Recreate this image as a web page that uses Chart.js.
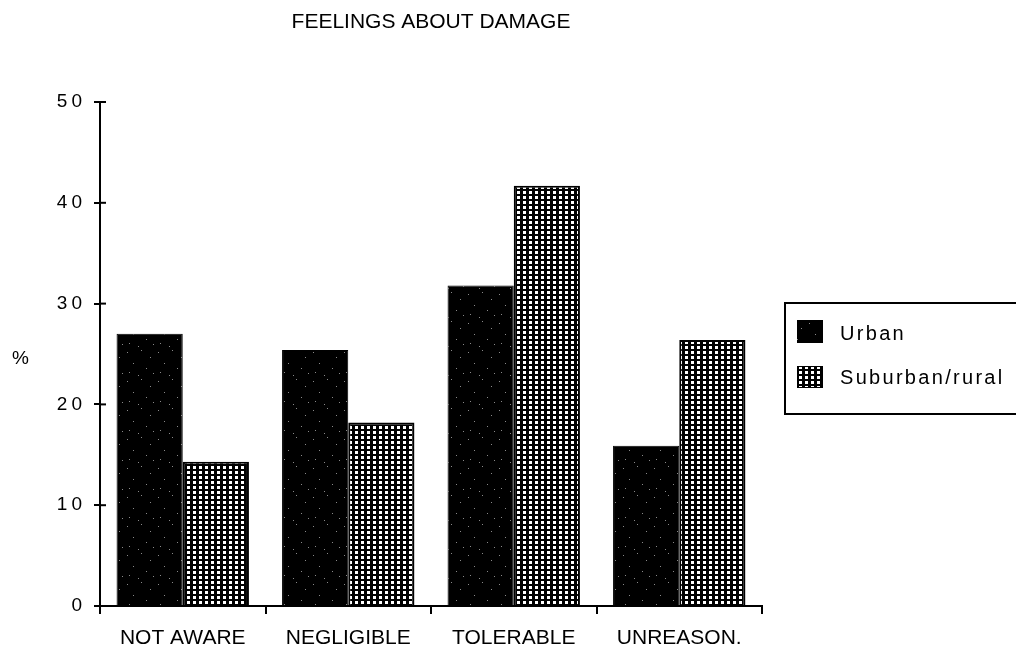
<!DOCTYPE html>
<html>
<head>
<meta charset="utf-8">
<script src="https://cdn.jsdelivr.net/npm/chart.js@4/dist/chart.umd.min.js"></script>
<style>
  body { margin: 0; background: #fff; }
  #wrap { width: 1016px; height: 653px; }
</style>
</head>
<body>
<div id="wrap"><canvas id="chart" width="1016" height="653"></canvas></div>
<script>
// Data
const categories = ['NOT AWARE', 'NEGLIGIBLE', 'TOLERABLE', 'UNREASON.'];
const urbanValues = [27.0, 25.4, 31.8, 15.9];
const suburbanValues = [14.3, 18.2, 41.7, 26.4];
const yTicks = [0, 10, 20, 30, 40, 50];

const titleText = 'FEELINGS ABOUT DAMAGE';
const seriesNames = ['Urban', 'Suburban/rural'];

// Fill patterns (black with a few specks, dotted screen)
function makeUrbanPattern(ctx) {
    const c = document.createElement('canvas');
    c.width = 31; c.height = 29;
    const p = c.getContext('2d');
    p.fillStyle = '#000';
    p.fillRect(0, 0, c.width, c.height);
    p.fillStyle = '#8a8a8a';
    const specks = [[3, 4], [17, 2], [26, 9], [9, 15], [22, 20], [5, 24], [14, 27], [29, 25]];
    specks.forEach(([x, y]) => p.fillRect(x, y, 1, 1));
    return ctx.createPattern(c, 'repeat');
}

function makeDotPattern(ctx) {
    const c = document.createElement('canvas');
    c.width = 6; c.height = 5;
    const p = c.getContext('2d');
    p.fillStyle = '#000';
    p.fillRect(0, 0, 6, 5);
    p.fillStyle = '#fff';
    p.fillRect(1, 1, 3, 3);
    return ctx.createPattern(c, 'repeat');
}

const canvas = document.getElementById('chart');
const ctx = canvas.getContext('2d');
const urbanFill = makeUrbanPattern(ctx);
const dotFill = makeDotPattern(ctx);

// y tick labels are letter-spaced in the original
function spaceOutLabels(scale, spacing) {
    if (scale._spaced) return;
    const orig = scale.drawLabels;
    scale.drawLabels = function(area) {
        const c = this.ctx;
        c.save();
        if ('letterSpacing' in c) c.letterSpacing = spacing;
        orig.call(this, area);
        c.restore();
    };
    scale._spaced = true;
}

// Title, "%" label, inner tick stubs and boxed legend
const decorations = {
    id: 'decorations',
    beforeDraw(chart) {
        spaceOutLabels(chart.scales.y, '4px');
    },
    afterDraw(chart) {
        const c = chart.ctx;
        const area = chart.chartArea;
        const yScale = chart.scales.y;
        c.save();

        // tick stubs crossing into the plot
        c.strokeStyle = '#000';
        c.lineWidth = 2;
        yTicks.forEach(v => {
            const py = yScale.getPixelForValue(v);
            c.beginPath();
            c.moveTo(area.left, py);
            c.lineTo(area.left + 6, py);
            c.stroke();
        });

        c.fillStyle = '#000';
        c.textBaseline = 'middle';
        c.font = '21px "Liberation Sans", Arial, sans-serif';
        c.textAlign = 'center';
        c.fillText(titleText, (area.left + area.right) / 2, 22);

        c.font = '19px "Liberation Sans", Arial, sans-serif';
        c.textAlign = 'left';
        c.fillText('%', 12, 359);

        // legend box
        c.lineWidth = 2;
        c.strokeRect(785, 303, 240, 111);

        c.fillStyle = urbanFill;
        c.fillRect(797, 320, 26, 23);
        c.fillStyle = dotFill;
        c.fillRect(797, 366, 26, 22);
        c.lineWidth = 1;
        c.strokeRect(797.5, 366.5, 25, 21);

        c.fillStyle = '#000';
        c.font = '20px "Liberation Sans", Arial, sans-serif';
        if ('letterSpacing' in c) c.letterSpacing = '2.3px';
        c.fillText(seriesNames[0], 840, 334);
        c.fillText(seriesNames[1], 840, 378);
        c.restore();
    }
};

new Chart(ctx, {
    type: 'bar',
    data: {
        labels: categories,
        datasets: [
            {
                label: seriesNames[0],
                data: urbanValues,
                backgroundColor: urbanFill,
                borderColor: '#000',
                borderWidth: 1
            },
            {
                label: seriesNames[1],
                data: suburbanValues,
                backgroundColor: dotFill,
                borderColor: '#000',
                borderWidth: 2
            }
        ]
    },
    options: {
        responsive: false,
        animation: false,
        layout: {
            padding: { top: 102, right: 254, left: 0, bottom: 0 }
        },
        plugins: {
            legend: { display: false },
            title: { display: false },
            tooltip: { enabled: false }
        },
        datasets: {
            bar: { categoryPercentage: 0.8, barPercentage: 1.0 }
        },
        scales: {
            x: {
                grid: {
                    offset: true,
                    drawOnChartArea: false,
                    drawTicks: true,
                    tickLength: 8,
                    color: '#000',
                    lineWidth: 2
                },
                border: { color: '#000', width: 2 },
                ticks: {
                    color: '#000',
                    padding: 12,
                    maxRotation: 0,
                    font: { family: '"Liberation Sans", Arial, sans-serif', size: 21 }
                },
                afterFit(scale) { scale.height = 47; }
            },
            y: {
                min: 0,
                max: 50,
                afterBuildTicks(scale) {
                    scale.ticks = yTicks.map(v => ({ value: v }));
                },
                grid: {
                    drawOnChartArea: false,
                    tickLength: 6,
                    color: '#000',
                    lineWidth: 2
                },
                border: { color: '#000', width: 2 },
                ticks: {
                    color: '#000',
                    padding: 8,
                    font: { family: '"Liberation Sans", Arial, sans-serif', size: 19 }
                },
                afterFit(scale) { scale.width = 100; }
            }
        }
    },
    plugins: [decorations]
});
</script>
</body>
</html>
